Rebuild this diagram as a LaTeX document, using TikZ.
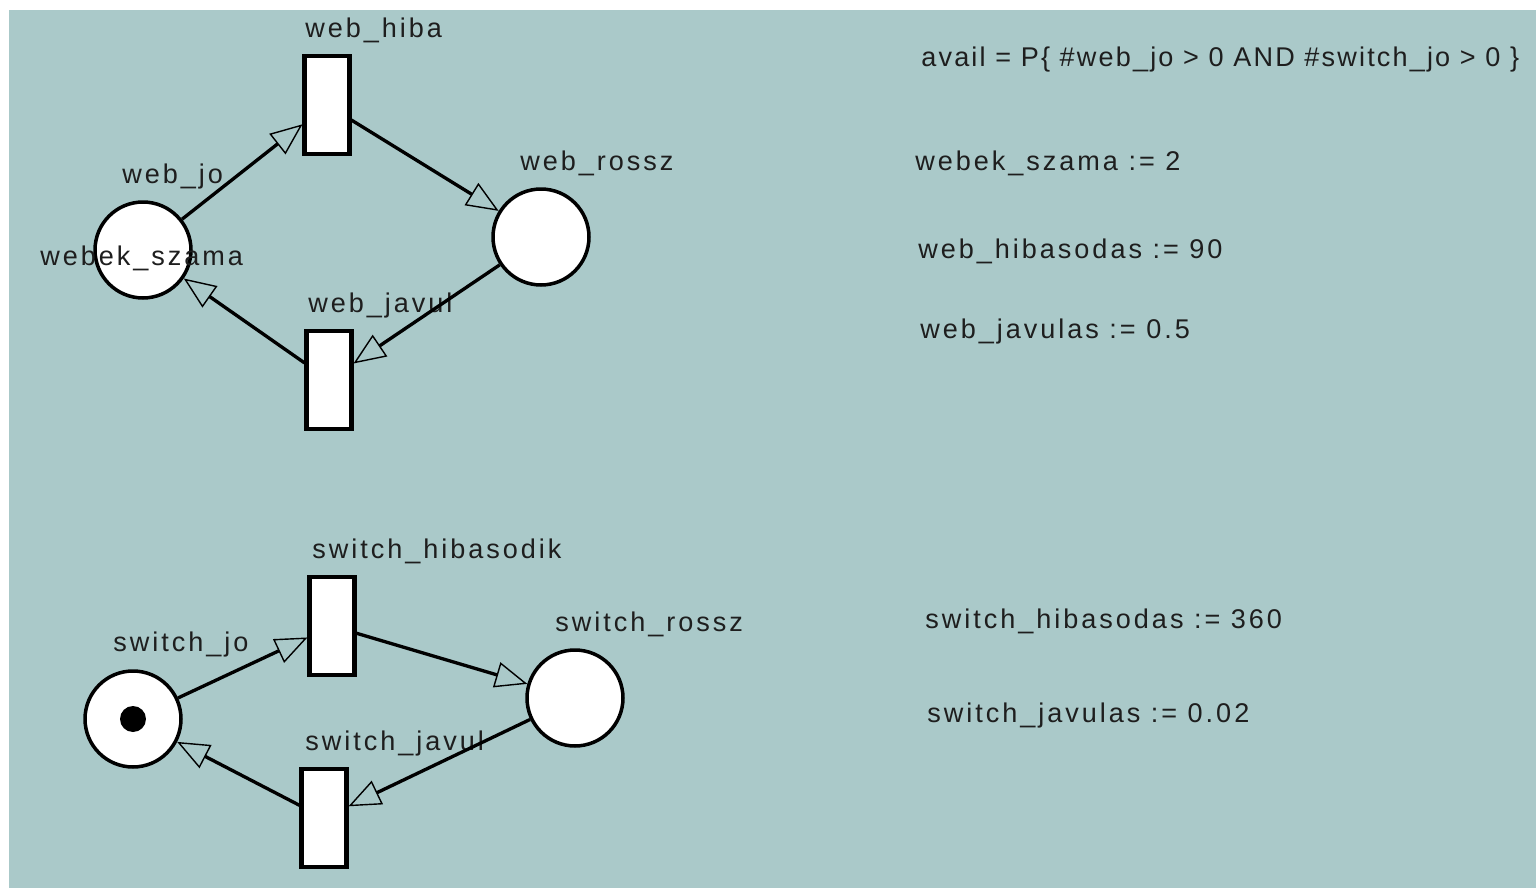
\documentclass[tikz,border=0pt]{standalone}
\usepackage{fontspec}
\setmainfont{Liberation Sans}[LetterSpace=11]
\usepackage{xcolor}
\usetikzlibrary{arrows.meta}

\definecolor{bgteal}{RGB}{170,201,201}
\definecolor{inkgray}{RGB}{30,30,30}

\begin{document}
\begin{tikzpicture}[
    x=0.02cm, y=-0.02cm,
    font=\fontsize{15.4}{17}\selectfont,
    place/.style={
        circle,
        draw,
        fill=white,
        line width=2pt,
        minimum size=1.92cm,
        inner sep=0pt
    },
    trans/.style={
        rectangle,
        draw,
        fill=white,
        line width=2.3pt,
        minimum width=0.9cm,
        minimum height=1.96cm,
        inner sep=0pt
    },
    tokendot/.style={
        circle,
        fill=black,
        minimum size=0.52cm,
        inner sep=0pt
    },
    lbl/.style={
        anchor=base west,
        inner sep=0pt,
        text=inkgray
    },
    arc/.style={
        line width=1.9pt,
        -{Triangle[open, length=0.64cm, width=0.52cm, line width=0.8pt]}
    }
]

\useasboundingbox (0,0) rectangle (1536,889);
\fill[bgteal] (9,10) rectangle (1536,888);

% Web servers
\node[place] (webjo) at (143,250) {};
\node[trans] (webhiba) at (327,105) {};
\node[place] (webrossz) at (541,237) {};
\node[trans] (webjavul) at (329,380) {};

\node[lbl] (webhibalbl) at (305,37) {web\_hiba};
\node[lbl] (webjolbl) at (122,183) {web\_jo};
\node[lbl] (webroszlbl) at (520,170) {web\_rossz};
\node[lbl] (webjavullbl) at (308,312) {web\_javul};
\node[lbl] (webmark) at (40,265) {webek\_szama};

% Switch
\node[place] (switchjo) at (133,719) {};
\node[tokendot] (tok) at (133,719) {};
\node[trans] (switchhiba) at (332,626) {};
\node[place] (switchrossz) at (575,698) {};
\node[trans] (switchjavul) at (324,818) {};

\node[lbl] (switchhibalbl) at (312,558) {switch\_hibasodik};
\node[lbl] (switchjolbl) at (113,651) {switch\_jo};
\node[lbl] (switchroszlbl) at (555,631) {switch\_rossz};
\node[lbl] (switchjavullbl) at (305,750) {switch\_javul};

% Parameters
\node[lbl] (avail) at (921,66) {\addfontfeature{LetterSpace=8}avail = P\{ \#web\_jo > 0 AND \#switch\_jo > 0 \}};
\node[lbl] (pwebek) at (915,170) {webek\_szama := 2};
\node[lbl] (pwebhiba) at (918,258) {web\_hibasodas := 90};
\node[lbl] (pwebjavul) at (920,338) {web\_javulas := 0.5};
\node[lbl] (pswhiba) at (925,628) {switch\_hibasodas := 360};
\node[lbl] (pswjavul) at (927,722) {switch\_javulas := 0.02};

% Arcs
\draw[arc] (webjo) -- (webhiba);
\draw[arc] (webhiba) -- (webrossz);
\draw[arc] (webrossz) -- (webjavul);
\draw[arc] (webjavul) -- (webjo);

\draw[arc] (switchjo) -- (switchhiba);
\draw[arc] (switchhiba) -- (switchrossz);
\draw[arc] (switchrossz) -- (switchjavul);
\draw[arc] (switchjavul) -- (switchjo);

\end{tikzpicture}
\end{document}
